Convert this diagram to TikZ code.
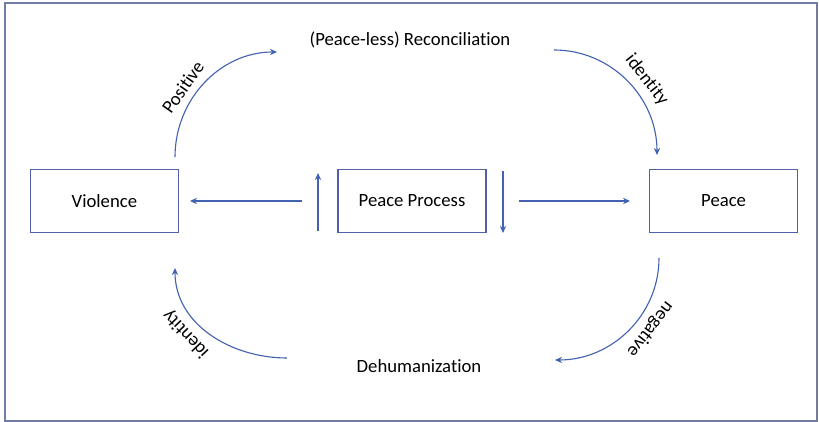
\documentclass[tikz,border=0pt]{standalone}
\usepackage{fontspec}
\setmainfont{Carlito}[Ligatures=CommonOff]
\usetikzlibrary{arrows.meta}
\definecolor{lineacol}{RGB}{68,98,178}
\definecolor{cajacol}{RGB}{82,96,168}
\definecolor{marcocol}{RGB}{112,124,164}

\begin{document}
\begin{tikzpicture}[thick,>={Stealth[length=5pt,width=4.5pt]},
caja/.style ={rectangle, draw=cajacol, thick, minimum width=3.7cm, minimum height=1.58cm, font=\fontsize{13.3}{16}\selectfont},
texto/.style ={font=\fontsize{13.3}{16}\selectfont},
etiq/.style ={font=\fontsize{13.3}{16}\selectfont, inner sep=1pt, sloped, allow upside down, above=4pt},
flecha/.style ={->, draw=lineacol}
]
\useasboundingbox (-10.3,5.025) rectangle (10.175,-5.525);
\draw[marcocol] (-10.175,4.95) rectangle (10.125,-5.5);

\draw (-7.69,0) node[caja] (vio) {Violence};
\draw (0,0) node[caja] (pp) {Peace Process};
\draw (7.79,0) node[caja] (paz) {Peace};
\draw (-0.05,4.025) node[texto] (rec) {(Peace-less) Reconciliation};
\draw (0.175,-4.125) node[texto] (deh) {Dehumanization};

% free ends
\coordinate (a1) at (-2.35,-0.75);
\coordinate (a2) at (-2.35,0.7);
\coordinate (b1) at (2.275,0.75);
\coordinate (b2) at (2.275,-0.8);
\coordinate (p1) at (-5.925,1.1);
\coordinate (p2) at (-3.375,3.725);
\coordinate (i1) at (3.55,3.775);
\coordinate (i2) at (6.125,1.15);
\coordinate (n1) at (6.175,-1.425);
\coordinate (n2) at (3.575,-3.975);
\coordinate (d1) at (-3.125,-3.925);
\coordinate (d2) at (-5.925,-1.675);

\draw[flecha, shorten <=0.875cm, shorten >=0.275cm] (pp)--(vio);
\draw[flecha, shorten <=0.8cm, shorten >=0.475cm] (pp)--(paz);
\draw[flecha] (a1)--(a2);
\draw[flecha] (b1)--(b2);

\draw[flecha] (p1) to[out=90,in=180] node[etiq, pos=0.4] {Positive} (p2);
\draw[flecha] (i1) to[out=0,in=90] node[etiq, pos=0.57] {identity} (i2);
\draw[flecha] (n1) to[out=-90,in=0] node[etiq, pos=0.41] {negative} (n2);
\draw[flecha] (d1) to[out=180,in=-90] node[etiq, pos=0.61] {identity} (d2);

\end{tikzpicture}
\end{document}
